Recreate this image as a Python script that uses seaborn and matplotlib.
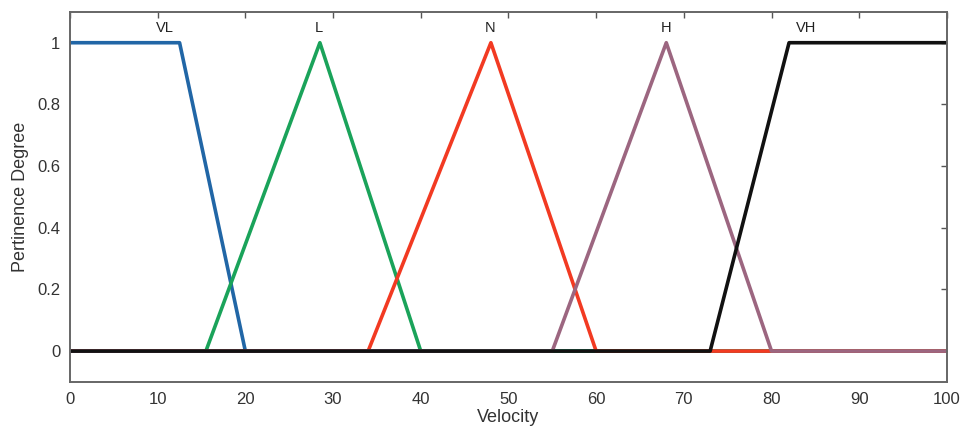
import pandas as pd
import matplotlib
matplotlib.use("Agg")
import matplotlib.pyplot as plt
import seaborn as sns

# membership function breakpoints (velocity, degree)
set_names = ["VL", "L", "N", "H", "VH"]
vl_x = [0, 12.5, 20, 100]
vl_y = [1, 1, 0, 0]
l_x = [0, 15.5, 28.5, 40, 100]
l_y = [0, 0, 1, 0, 0]
n_x = [0, 34, 48, 60, 100]
n_y = [0, 0, 1, 0, 0]
h_x = [0, 55, 68, 80, 100]
h_y = [0, 0, 1, 0, 0]
vh_x = [0, 73, 82, 100]
vh_y = [0, 0, 1, 1]

label_x = [10.8, 28.4, 47.9, 68.0, 84.0]
colors = ["#2166a6", "#1aa35a", "#f23a22", "#9c6680", "#111111"]

frames = []
for name, xs, ys in zip(set_names, [vl_x, l_x, n_x, h_x, vh_x], [vl_y, l_y, n_y, h_y, vh_y]):
    frames.append(pd.DataFrame({"velocity": xs, "degree": ys, "set": name}))
df = pd.concat(frames, ignore_index=True)

sns.set_style("white")
plt.rcParams["font.family"] = ["Liberation Sans", "DejaVu Sans"]

fig = plt.figure(figsize=(9.69, 4.4), dpi=100)
ax = fig.add_axes([0.0722, 0.132, 0.905, 0.841])

for name, color in zip(set_names, colors):
    sub = df[df["set"] == name]
    sns.lineplot(data=sub, x="velocity", y="degree", color=color, lw=2.6,
                 sort=False, estimator=None, ax=ax)

for name, lx in zip(set_names, label_x):
    ax.text(lx, 1.025, name, ha="center", va="bottom", fontsize=10.5, color="#222222")

ax.set_xlim(0, 100)
ax.set_ylim(-0.1, 1.1)
ax.set_xticks(range(0, 101, 10))
ax.set_yticks([0, 0.2, 0.4, 0.6, 0.8, 1])
ax.set_yticklabels(["0", "0.2", "0.4", "0.6", "0.8", "1"])
ax.set_xlabel("Velocity", fontsize=13, color="#333333", labelpad=2)
ax.set_ylabel("Pertinence Degree", fontsize=13, color="#333333", labelpad=6)
ax.tick_params(direction="in", length=4, width=1, colors="#555555",
               labelcolor="#333333", labelsize=12, top=True, right=True, pad=7)
for sp in ax.spines.values():
    sp.set_color("#666666")
    sp.set_linewidth(1.4)

fig.savefig("out.png", dpi=100)
plt.close(fig)
